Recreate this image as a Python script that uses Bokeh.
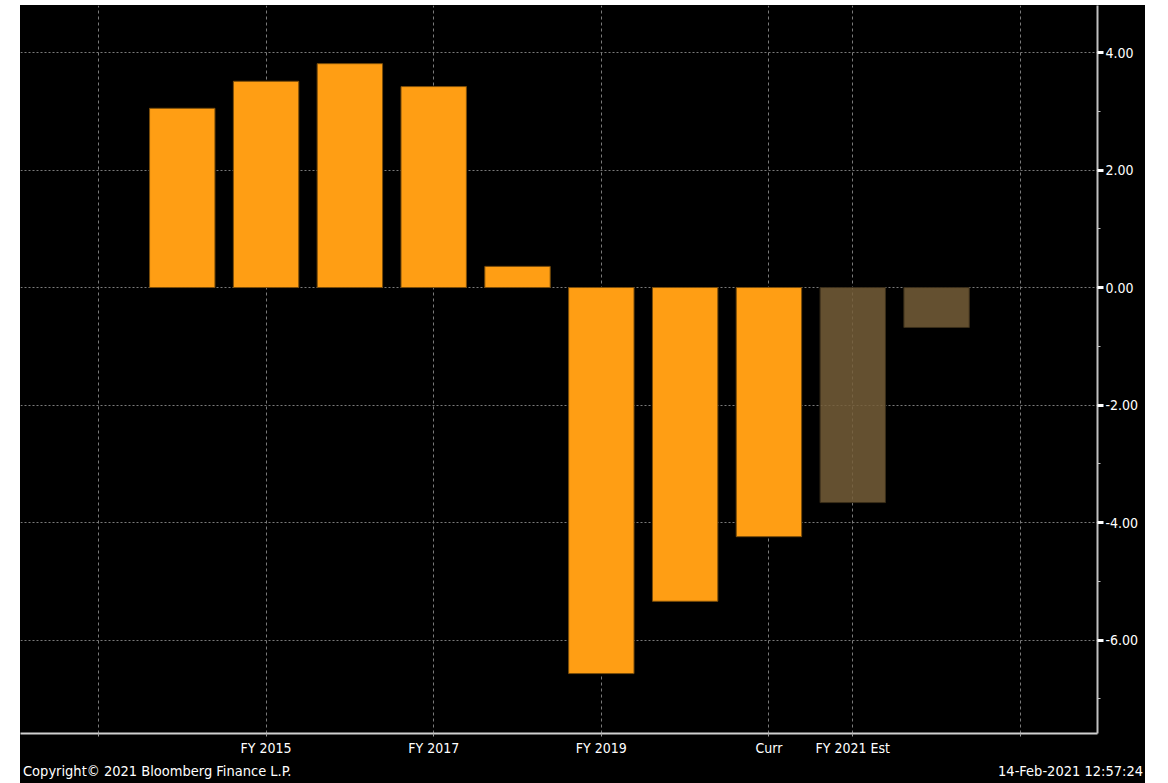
from bokeh.plotting import figure
from bokeh.models import FixedTicker, Spacer, Range1d, Div
from bokeh.layouts import row, column
from bokeh.embed import file_html
from bokeh.resources import INLINE

# ---- data ----
categories = ["FY 2014", "FY 2015", "FY 2016", "FY 2017", "FY 2018",
              "FY 2019", "FY 2020", "Curr", "FY 2021 Est", "FY 2022 Est"]
positions = [1, 2, 3, 4, 5, 6, 7, 8, 9, 10]
values = [3.05, 3.51, 3.81, 3.42, 0.36, -6.57, -5.34, -4.24, -3.66, -0.68]
estimated = [False, False, False, False, False, False, False, False, True, True]
x_ticks = [0, 2, 4, 6, 8, 9, 11]
x_tick_labels = ["", "FY 2015", "FY 2017", "FY 2019", "Curr", "FY 2021 Est", ""]
y_ticks = [-6, -4, -2, 0, 2, 4]
y_minor_ticks = [-7, -5, -3, -1, 1, 3]
y_tick_labels = ["-6.00", "-4.00", "-2.00", "0.00", "2.00", "4.00"]
footer_left = "Copyright\u00a9 2021 Bloomberg Finance L.P."
footer_right = "14-Feb-2021 12:57:24"

FONT = "DejaVu Sans Condensed"
ORANGE = "#FF9E14"
BROWN = "#765E38"

p = figure(width=1125, height=755, output_backend="svg", toolbar_location=None,
           y_axis_location="right",
           x_range=Range1d(-0.93, 11.92), y_range=Range1d(-7.59, 4.8),
           background_fill_color="black", border_fill_color="black",
           min_border_left=0, min_border_top=0, min_border_right=48, min_border_bottom=27,
           outline_line_color=None)

# grid
p.xgrid.grid_line_color = "#7a7a7a"
p.xgrid.grid_line_dash = "3 3"
p.xgrid.grid_line_width = 1
p.ygrid.grid_line_color = "#7a7a7a"
p.ygrid.grid_line_dash = "2 2"
p.ygrid.grid_line_width = 1

# bars
act_x = [x for x, e in zip(positions, estimated) if not e]
act_v = [v for v, e in zip(values, estimated) if not e]
est_x = [x for x, e in zip(positions, estimated) if e]
est_v = [v for v, e in zip(values, estimated) if e]
p.vbar(x=act_x, top=act_v, bottom=0, width=0.78, fill_color=ORANGE,
       line_color="#7a4d0a", line_width=1)
p.vbar(x=est_x, top=est_v, bottom=0, width=0.78, fill_color=BROWN, fill_alpha=0.85,
       line_color="#3a2e1a", line_width=1)

# x axis
xa = p.xaxis[0]
xa.ticker = FixedTicker(ticks=x_ticks)
xa.major_label_overrides = {t: l for t, l in zip(x_ticks, x_tick_labels)}
xa.axis_line_color = "#d0d0d0"
xa.axis_line_width = 2
xa.major_tick_line_color = "#a0a0a0"
xa.major_tick_in = 0
xa.major_tick_out = 3
xa.minor_tick_line_color = None
xa.major_label_text_color = "white"
xa.major_label_text_font = FONT
xa.major_label_text_font_size = "14px"
xa.major_label_standoff = 3

# y axis (right)
ya = p.yaxis[0]
ya.ticker = FixedTicker(ticks=y_ticks, minor_ticks=y_minor_ticks)
ya.major_label_overrides = {t: l for t, l in zip(y_ticks, y_tick_labels)}
ya.axis_line_color = "#c0c0c0"
ya.axis_line_width = 2
ya.major_tick_line_color = "white"
ya.major_tick_line_width = 3
ya.major_tick_in = 0
ya.major_tick_out = 6
ya.minor_tick_line_color = "#c0c0c0"
ya.minor_tick_line_width = 1
ya.minor_tick_in = 0
ya.minor_tick_out = 3
ya.major_label_text_color = "white"
ya.major_label_text_font = FONT
ya.major_label_text_font_size = "14px"
ya.major_label_standoff = 2

# footer strip
span_css = "position:absolute;top:0px;line-height:23px;white-space:nowrap;"
footer = Div(
    text=(f'<div style="position:relative;width:1125px;height:23px;background:black;'
          f'color:white;font-family:\'{FONT}\';font-size:14.5px;">'
          f'<span style="{span_css}left:3px;">{footer_left}</span>'
          f'<span style="{span_css}right:2px;">{footer_right}</span></div>'),
    width=1125, height=23,
    styles={"background-color": "black", "margin": "0", "padding": "0"})

inner = column(p, footer, spacing=0, styles={"background-color": "black"})
layout = column(Spacer(width=1145, height=5),
                row(Spacer(width=20, height=778), inner, spacing=0),
                spacing=0)
open("out.html", "w").write(file_html(layout, INLINE))
